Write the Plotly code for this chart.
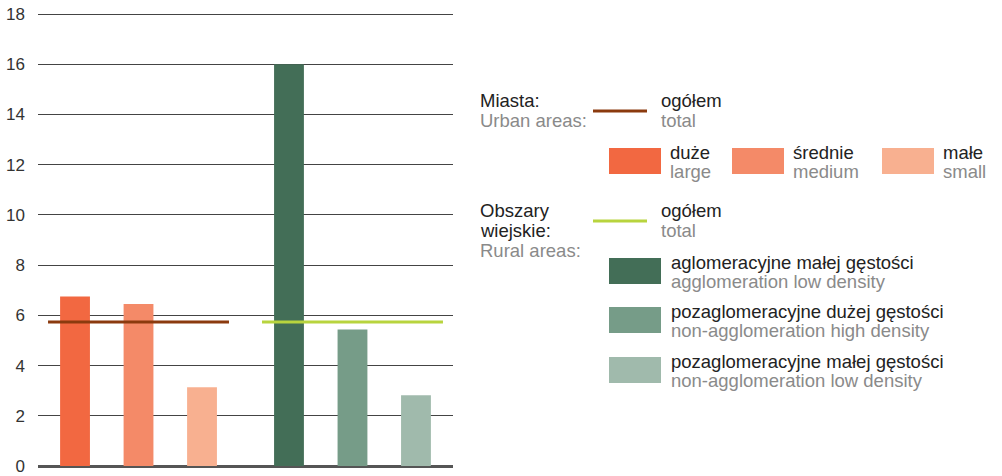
import plotly.graph_objects as go

# ---- data ----
urban_labels = ["duże", "średnie", "małe"]
urban_labels_en = ["large", "medium", "small"]
urban_values = [6.75, 6.45, 3.14]
urban_total = 5.73

rural_labels = ["aglomeracyjne małej gęstości", "pozaglomeracyjne dużej gęstości", "pozaglomeracyjne małej gęstości"]
rural_labels_en = ["agglomeration low density", "non-agglomeration high density", "non-agglomeration low density"]
rural_values = [16.0, 5.44, 2.82]
rural_total = 5.73

y_ticks = [0, 2, 4, 6, 8, 10, 12, 14, 16, 18]

# ---- styles ----
urban_colors = ["#F26841", "#F48A68", "#F8B090"]
rural_colors = ["#436E57", "#769C88", "#A0BAAC"]
urban_line_color = "#8B3A0E"
rural_line_color = "#B8D43E"
FONT = "Liberation Sans"
DARK = "#222222"
GRAY = "#8a8a8a"
LEG_SIZE = 18.5

W, H = 1002, 476
Y_TOP = 18.2
ML, MR, MT, MB = 38, W - 453, 9, H - 466
PW, PH = W - ML - MR, H - MT - MB

def px(x):
    return (x - ML) / PW

def py(y):
    return (H - MB - y) / PH

GAP = 0.37
BAR_W = 0.47
HALF = 0.425
urban_x = [i for i in range(len(urban_values))]
rural_x = [len(urban_values) + GAP + i for i in range(len(rural_values))]

fig = go.Figure()
fig.add_trace(go.Bar(x=urban_x, y=urban_values, width=BAR_W,
                     marker=dict(color=urban_colors, line=dict(width=0)),
                     name="Miasta", showlegend=False, hoverinfo="y"))
fig.add_trace(go.Bar(x=rural_x, y=rural_values, width=BAR_W,
                     marker=dict(color=rural_colors, line=dict(width=0)),
                     name="Obszary wiejskie", showlegend=False, hoverinfo="y"))
fig.add_trace(go.Scatter(x=[urban_x[0] - HALF, urban_x[-1] + HALF], y=[urban_total, urban_total],
                         mode="lines", line=dict(color=urban_line_color, width=3),
                         showlegend=False, hoverinfo="y"))
fig.add_trace(go.Scatter(x=[rural_x[0] - HALF, rural_x[-1] + HALF], y=[rural_total, rural_total],
                         mode="lines", line=dict(color=rural_line_color, width=3),
                         showlegend=False, hoverinfo="y"))

shapes = []
annotations = []

def text(x, y, s, color, size=LEG_SIZE):
    annotations.append(dict(x=px(x), y=py(y), xref="paper", yref="paper", text=s,
                            showarrow=False, xanchor="left", yanchor="middle",
                            xshift=-2, font=dict(family=FONT, size=size, color=color)))

def rect(x0, y0, x1, y1, color):
    shapes.append(dict(type="rect", xref="paper", yref="paper",
                       x0=px(x0), x1=px(x1), y0=py(y1), y1=py(y0),
                       fillcolor=color, line=dict(width=0), layer="above"))

def hline(x0, x1, y, color):
    shapes.append(dict(type="line", xref="paper", yref="paper",
                       x0=px(x0), x1=px(x1), y0=py(y), y1=py(y),
                       line=dict(color=color, width=3), layer="above"))

# Urban legend
text(480, 101, "Miasta:", DARK)
text(480, 120, "Urban areas:", GRAY)
hline(593, 647, 111, urban_line_color)
text(661, 101, "ogółem", DARK)
text(661, 120, "total", GRAY)
sw_x = [609, 732, 882]
for i in range(3):
    rect(sw_x[i], 148, sw_x[i] + 52, 174, urban_colors[i])
    text(sw_x[i] + 61, 152, urban_labels[i], DARK)
    text(sw_x[i] + 61, 171, urban_labels_en[i], GRAY)

# Rural legend
text(480, 210, "Obszary", DARK)
text(480, 230, "wiejskie:", DARK)
text(480, 250, "Rural areas:", GRAY)
hline(593, 647, 221, rural_line_color)
text(661, 210, "ogółem", DARK)
text(661, 230, "total", GRAY)
sw_y = [258, 307, 357]
for i in range(3):
    rect(609, sw_y[i], 661, sw_y[i] + 26, rural_colors[i])
    text(671, sw_y[i] + 4, rural_labels[i], DARK)
    text(671, sw_y[i] + 23, rural_labels_en[i], GRAY)

fig.update_layout(
    width=W, height=H,
    margin=dict(l=ML, r=MR, t=MT, b=MB, pad=0, autoexpand=False),
    paper_bgcolor="white", plot_bgcolor="white",
    barmode="overlay",
    shapes=shapes, annotations=annotations,
    xaxis=dict(range=[-0.583, 5.953], showticklabels=False, showgrid=False,
               zeroline=False, showline=False, ticks="", automargin=False),
    yaxis=dict(range=[0, Y_TOP], tickvals=y_ticks, showgrid=True, gridcolor="#444444",
               gridwidth=1, zeroline=True, zerolinecolor="#555555", zerolinewidth=3,
               showline=False, ticks="", ticklabelstandoff=12, automargin=False,
               tickfont=dict(family=FONT, size=17, color="#333333")),
    font=dict(family=FONT),
)

fig.write_html("out.html", config={"displayModeBar": False},
               post_script="document.body.style.margin='0';document.body.style.overflow='hidden';")
